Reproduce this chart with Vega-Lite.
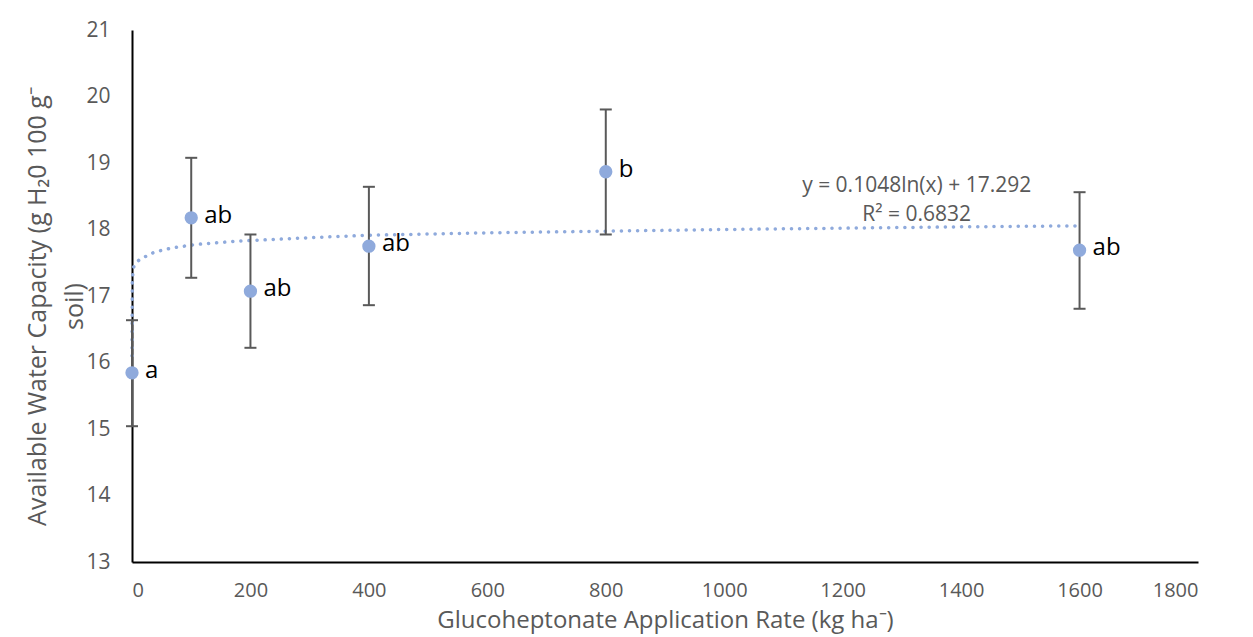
{
  "$schema": "https://vega.github.io/schema/vega-lite/v6.json",
  "autosize": {"type": "none"},
  "padding": {"left": 132, "top": 30, "right": 55, "bottom": 75},
  "width": 1066,
  "height": 532,
  "background": "white",
  "config": {
    "view": {"stroke": null},
    "font": "Open Sans",
    "axis": {
      "domainColor": "#000000",
      "domainWidth": 2,
      "ticks": false,
      "grid": false,
      "labelFont": "Open Sans",
      "labelFontSize": 21,
      "labelColor": "#595959",
      "titleFont": "Open Sans",
      "titleFontSize": 25,
      "titleFontWeight": "normal",
      "titleColor": "#595959"
    }
  },
  "datasets": {
    "pts": [
      {"rate": 0, "awc": 15.845, "lo": 15.042, "hi": 16.636, "grp": "a"},
      {"rate": 100, "awc": 18.176, "lo": 17.274, "hi": 19.078, "grp": "ab"},
      {"rate": 200, "awc": 17.072, "lo": 16.221, "hi": 17.925, "grp": "ab"},
      {"rate": 400, "awc": 17.749, "lo": 16.862, "hi": 18.642, "grp": "ab"},
      {"rate": 800, "awc": 18.868, "lo": 17.925, "hi": 19.805, "grp": "b"},
      {"rate": 1600, "awc": 17.689, "lo": 16.808, "hi": 18.561, "grp": "ab"}
    ],
    "trend": [
      {"rate": 0, "fit": 16.1},
      {"rate": 0.5, "fit": 17.2},
      {"rate": 2, "fit": 17.42},
      {"rate": 6, "fit": 17.49},
      {"rate": 13, "fit": 17.55},
      {"rate": 38, "fit": 17.66},
      {"rate": 66, "fit": 17.72},
      {"rate": 107, "fit": 17.775},
      {"rate": 176, "fit": 17.824},
      {"rate": 317, "fit": 17.884},
      {"rate": 401, "fit": 17.914},
      {"rate": 600, "fit": 17.95},
      {"rate": 800, "fit": 17.975},
      {"rate": 1000, "fit": 18.0},
      {"rate": 1200, "fit": 18.02},
      {"rate": 1400, "fit": 18.04},
      {"rate": 1600, "fit": 18.055}
    ],
    "notes": [
      {"rate": 1325, "awc": 18.65, "txt": "y = 0.1048ln(x) + 17.292"},
      {"rate": 1325, "awc": 18.225, "txt": "R² = 0.6832"}
    ]
  },
  "encoding": {
    "x": {
      "field": "rate",
      "type": "quantitative",
      "scale": {"domain": [0, 1800], "nice": false, "zero": false},
      "axis": {
        "values": [0, 200, 400, 600, 800, 1000, 1200, 1400, 1600, 1800],
        "format": "d",
        "labelPadding": 18,
        "labelFontSize": 20,
        "title": "Glucoheptonate Application Rate (kg ha⁻)",
        "titleFontSize": 24,
        "titlePadding": 8
      }
    }
  },
  "layer": [
    {
      "data": {"name": "trend"},
      "mark": {"type": "line", "color": "#8FAADC", "strokeWidth": 3.5, "strokeCap": "round", "strokeDash": [0.1, 8]},
      "encoding": {
        "y": {
          "field": "fit",
          "type": "quantitative",
          "scale": {"domain": [13, 21], "nice": false, "zero": false},
          "axis": {
            "values": [13, 14, 15, 16, 17, 18, 19, 20, 21],
            "format": "d",
            "labelPadding": 22,
            "title": ["Available Water Capacity (g H₂0 100 g⁻", "soil)"],
            "titleAngle": -90,
            "titleX": -95,
            "titleY": 276,
            "titleAlign": "center",
            "titleBaseline": "middle",
            "titleLineHeight": 37
          }
        }
      }
    },
    {
      "data": {"name": "pts"},
      "mark": {"type": "rule", "color": "#595959", "strokeWidth": 2},
      "encoding": {"y": {"field": "lo", "type": "quantitative"}, "y2": {"field": "hi"}}
    },
    {
      "data": {"name": "pts"},
      "mark": {"type": "tick", "orient": "horizontal", "color": "#595959", "size": 12, "thickness": 2, "opacity": 1},
      "encoding": {"y": {"field": "lo", "type": "quantitative"}}
    },
    {
      "data": {"name": "pts"},
      "mark": {"type": "tick", "orient": "horizontal", "color": "#595959", "size": 12, "thickness": 2, "opacity": 1},
      "encoding": {"y": {"field": "hi", "type": "quantitative"}}
    },
    {
      "data": {"name": "pts"},
      "mark": {"type": "point", "filled": true, "shape": "circle", "size": 177, "color": "#8FAADC", "opacity": 1},
      "encoding": {"y": {"field": "awc", "type": "quantitative"}}
    },
    {
      "data": {"name": "pts"},
      "mark": {"type": "text", "align": "left", "baseline": "middle", "dx": 13, "dy": -2, "fontSize": 24, "color": "#000000", "font": "Open Sans"},
      "encoding": {"y": {"field": "awc", "type": "quantitative"}, "text": {"field": "grp"}}
    },
    {
      "data": {"name": "notes"},
      "mark": {"type": "text", "align": "center", "baseline": "middle", "fontSize": 21, "color": "#595959", "font": "Open Sans"},
      "encoding": {"y": {"field": "awc", "type": "quantitative"}, "text": {"field": "txt"}}
    }
  ]
}
